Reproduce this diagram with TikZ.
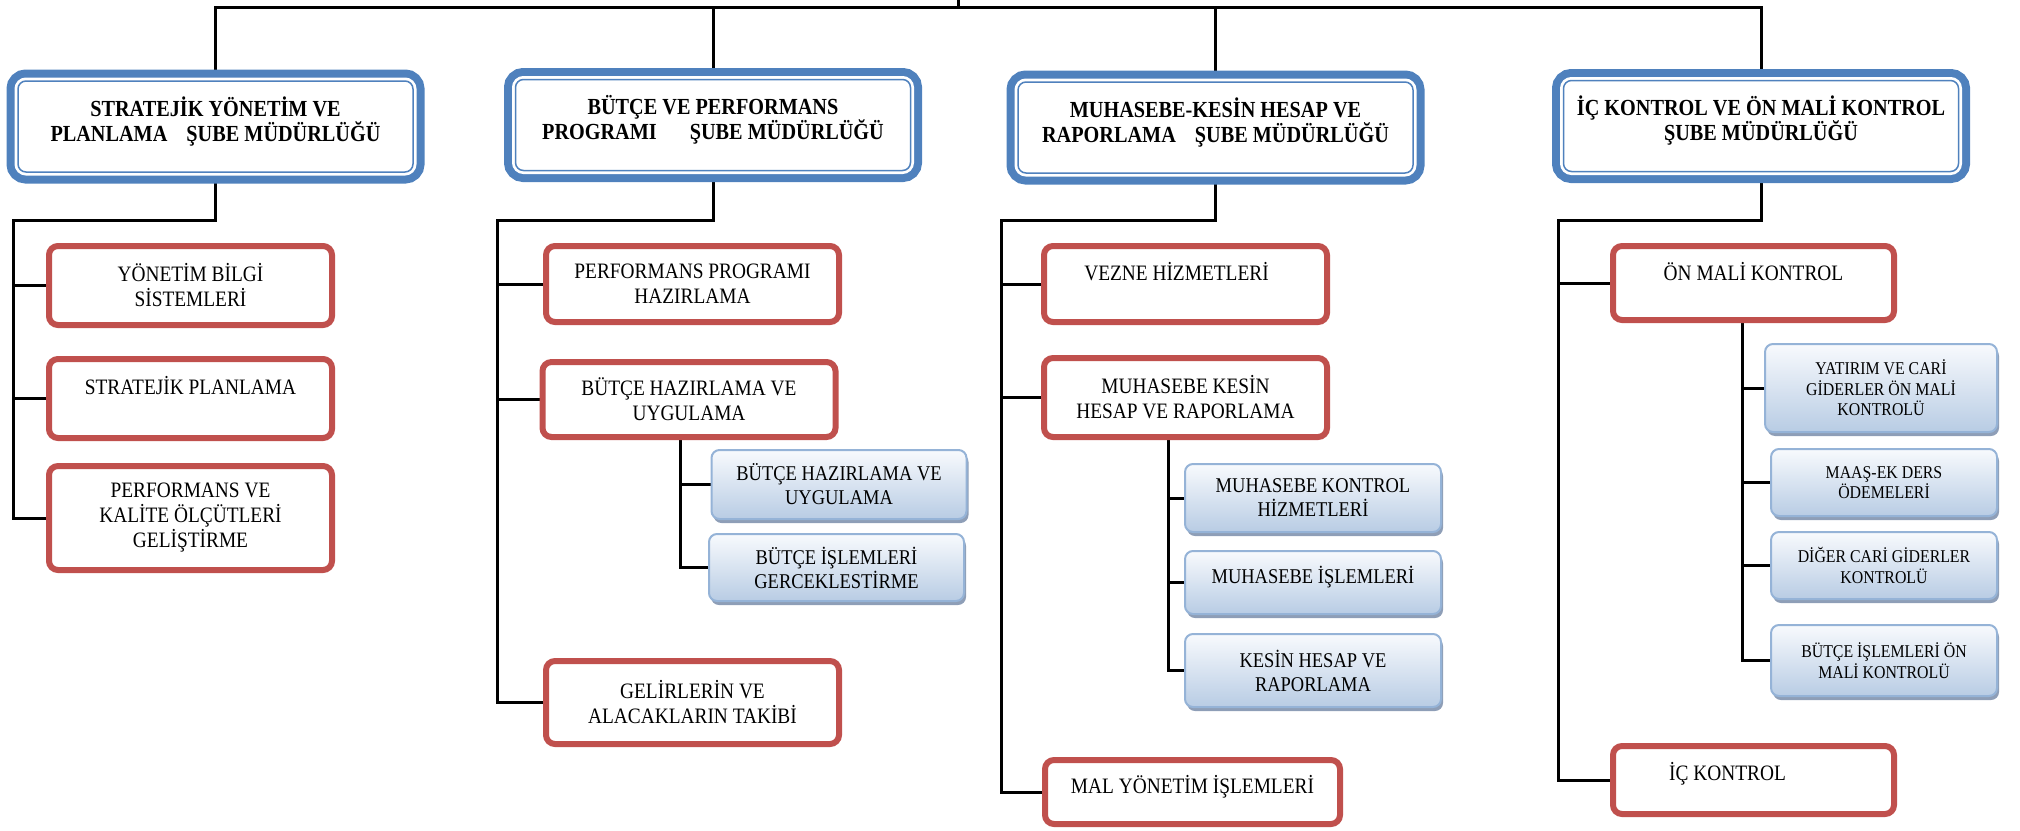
\documentclass[tikz,border=0pt]{standalone}
\usepackage{fontspec}
\setmainfont[FakeStretch=0.88]{Liberation Serif}
\usetikzlibrary{backgrounds,shadows}

\definecolor{headblue}{RGB}{79,129,189}
\definecolor{boxred}{RGB}{192,80,77}
\definecolor{subedge}{RGB}{149,179,215}
\definecolor{subtop}{RGB}{248,250,253}
\definecolor{subbot}{RGB}{184,204,228}
\definecolor{subshade}{RGB}{130,148,175}

\begin{document}
\begin{tikzpicture}[x=1pt,y=-1pt,
  head/.style={fill=white, draw=headblue, line width=1.5pt, rounded corners=8pt,
    preaction={draw=headblue, line width=23pt},
    preaction={draw=white, line width=7pt},
    minimum width=395, minimum height=91, inner sep=0pt, align=center,
    font=\fontsize{23}{25}\selectfont\bfseries},
  unit/.style={fill=white, draw=boxred, line width=6pt, rounded corners=9pt,
    inner sep=0pt, align=center, font=\fontsize{22}{25}\selectfont},
  sub/.style={draw=subedge, line width=2pt, rounded corners=8pt,
    top color=subtop, bottom color=subbot,
    drop shadow={shadow xshift=2pt, shadow yshift=-4pt, fill=subshade, opacity=0.9},
    inner sep=0pt, align=center, font=\fontsize{21}{24}\selectfont},
  small/.style={font=\fontsize{18}{20.5}\selectfont},
  oneline/.style={text height=16pt, text depth=#1},
  link/.style={line width=3pt}]
\useasboundingbox (0,0) rectangle (2020,830);

% sube mudurlukleri
\node[head] (strat) at (215.5,126.5) {STRATEJİK YÖNETİM VE\\PLANLAMA\hspace{14pt} ŞUBE MÜDÜRLÜĞÜ\rule[-15pt]{0pt}{0pt}};
\node[head] (butce) at (713,125) {BÜTÇE VE PERFORMANS\\PROGRAMI\hspace{28pt} ŞUBE MÜDÜRLÜĞÜ\rule[-15pt]{0pt}{0pt}};
\node[head] (muh) at (1215.5,127.5) {MUHASEBE-KESİN HESAP VE\\RAPORLAMA\hspace{14pt} ŞUBE MÜDÜRLÜĞÜ\rule[-15pt]{0pt}{0pt}};
\node[head] (ick) at (1761,126) {İÇ KONTROL VE ÖN MALİ KONTROL\\ŞUBE MÜDÜRLÜĞÜ\rule[-15pt]{0pt}{0pt}};

% stratejik yonetim
\node[unit, minimum width=283, minimum height=79] (ybs) at (190.5,285.5) {YÖNETİM BİLGİ\\SİSTEMLERİ};
\node[unit, oneline=24.4pt, minimum width=283, minimum height=79] (sp) at (190.5,398.5) {STRATEJİK PLANLAMA};
\node[unit, minimum width=283, minimum height=104] (pko) at (190.5,518) {PERFORMANS VE\\KALİTE ÖLÇÜTLERİ\\GELİŞTİRME};

% butce ve performans
\node[unit, minimum width=293, minimum height=76] (pph) at (692.5,284) {PERFORMANS PROGRAMI\\HAZIRLAMA};
\node[unit, minimum width=293, minimum height=75] (bhu) at (689,399.5) {BÜTÇE HAZIRLAMA VE\\UYGULAMA};
\node[unit, minimum width=293, minimum height=83] (gat) at (692.5,702.5) {GELİRLERİN VE\\ALACAKLARIN TAKİBİ};
\node[sub, minimum width=255, minimum height=69] (bhu1) at (839,484.5) {BÜTÇE HAZIRLAMA VE\\UYGULAMA};
\node[sub, minimum width=255, minimum height=67] (bhu2) at (836.5,567.5) {BÜTÇE İŞLEMLERİ\\GERCEKLESTİRME};

% muhasebe
\node[unit, oneline=23.4pt, minimum width=283, minimum height=76] (vh) at (1185.5,284) {VEZNE HİZMETLERİ\hspace*{18pt}};
\node[unit, minimum width=283, minimum height=79] (mkhr) at (1185.5,397.5) {MUHASEBE KESİN\\HESAP VE RAPORLAMA};
\node[unit, oneline=13.4pt, minimum width=295, minimum height=64] (myi) at (1192.5,792) {MAL YÖNETİM İŞLEMLERİ};
\node[sub, minimum width=256, minimum height=68] (mkh) at (1313,498) {MUHASEBE KONTROL\\HİZMETLERİ};
\node[sub, oneline=15pt, minimum width=256, minimum height=63] (mi) at (1313,582.5) {MUHASEBE İŞLEMLERİ};
\node[sub, minimum width=256, minimum height=73] (khr) at (1313,670.5) {KESİN HESAP VE\\RAPORLAMA};

% ic kontrol
\node[unit, oneline=21.4pt, minimum width=281, minimum height=74] (omk) at (1753.5,283) {ÖN MALİ KONTROL};
\node[unit, oneline=15.4pt, minimum width=281, minimum height=68] (ik) at (1753.5,780) {İÇ KONTROL\hspace*{52pt}};
\node[sub, small, minimum width=232, minimum height=88] (ycg) at (1881,388) {YATIRIM VE CARİ\\GİDERLER ÖN MALİ\\KONTROLÜ};
\node[sub, small, minimum width=226, minimum height=67] (maas) at (1884,482.5) {MAAŞ-EK DERS\\ÖDEMELERİ};
\node[sub, small, minimum width=226, minimum height=67] (dcg) at (1884,565.5) {DİĞER CARİ GİDERLER\\KONTROLÜ};
\node[sub, small, minimum width=226, minimum height=71] (bio) at (1884,660.5) {BÜTÇE İŞLEMLERİ ÖN\\MALİ KONTROLÜ};

\coordinate (top) at (958,7);
\coordinate (up) at (958,0);
\coordinate (s1) at (13,220);
\coordinate (b1) at (497,220);
\coordinate (m1) at (1001,220);
\coordinate (k1) at (1558,220);

\begin{scope}[on background layer]
% ust hat
\draw[link] (strat.north) |- (top) -| (ick.north);
\draw[link] (top) -- (up);
\draw[link] (butce.north) -- (butce.north |- top);
\draw[link] (muh.north) -- (muh.north |- top);

\draw[link] (strat.south) |- (s1) |- (pko.west);
\draw[link] (s1 |- ybs.west) -- (ybs.west);
\draw[link] (s1 |- sp.west) -- (sp.west);

\draw[link] (butce.south) |- (b1) |- (gat.west);
\draw[link] (b1 |- pph.west) -- (pph.west);
\draw[link] (b1 |- bhu.west) -- (bhu.west);
\draw[link] ([xshift=-9pt]bhu.south) |- (bhu2.west);
\draw[link] ([xshift=-9pt]bhu.south |- bhu1.west) -- (bhu1.west);

\draw[link] (muh.south) |- (m1) |- (myi.west);
\draw[link] (m1 |- vh.west) -- (vh.west);
\draw[link] (m1 |- mkhr.west) -- (mkhr.west);
\draw[link] ([xshift=-17.5pt]mkhr.south) |- (khr.west);
\draw[link] ([xshift=-17.5pt]mkhr.south |- mkh.west) -- (mkh.west);
\draw[link] ([xshift=-17.5pt]mkhr.south |- mi.west) -- (mi.west);

\draw[link] (ick.south) |- (k1) |- (ik.west);
\draw[link] (k1 |- omk.west) -- (omk.west);
\draw[link] ([xshift=-11.5pt]omk.south) |- (bio.west);
\draw[link] ([xshift=-11.5pt]omk.south |- ycg.west) -- (ycg.west);
\draw[link] ([xshift=-11.5pt]omk.south |- maas.west) -- (maas.west);
\draw[link] ([xshift=-11.5pt]omk.south |- dcg.west) -- (dcg.west);
\end{scope}
\end{tikzpicture}
\end{document}
